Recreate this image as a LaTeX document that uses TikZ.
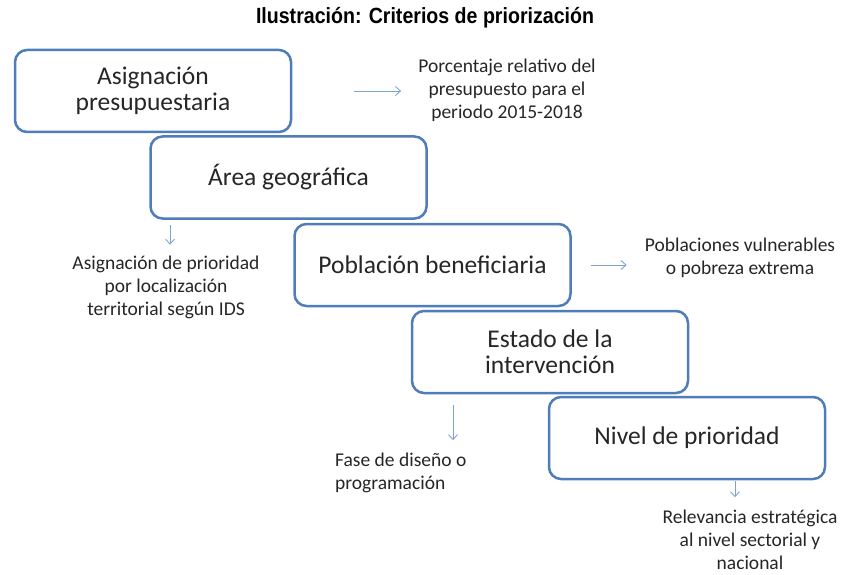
\documentclass[tikz,border=0pt]{standalone}
\usepackage{fontspec}
\usetikzlibrary{arrows.meta}
\setmainfont{Carlito}
\newfontfamily\titulofont[FakeStretch=0.89]{Liberation Sans}
\definecolor{azulcaja}{HTML}{4F7CBA}
\definecolor{azulflecha}{HTML}{7EA2D2}
\tikzset{
    caja/.style={draw=azulcaja, line width=2.5pt, rounded corners=12pt, fill=white,
        minimum width=276pt, minimum height=82pt, align=center, text=black!85,
        font=\fontsize{25.5pt}{26pt}\selectfont},
    nota/.style={align=center, text=black!85, inner sep=1pt,
        font=\fontsize{19.5pt}{23pt}\selectfont},
    flecha/.style={->, >={Straight Barb[length=5pt,width=9pt]}, draw=azulflecha, line width=0.9pt}
}
\begin{document}
\begin{tikzpicture}[x=1pt, y=-1pt]
    \useasboundingbox (0,0) rectangle (851,575);
    \node (titulo) at (425,18) {\titulofont\bfseries\fontsize{22pt}{24pt}\selectfont Ilustración: Criterios de priorización};

    % cajas en escalera
    \node[caja] (asig) at (153,91) {Asignación\\presupuestaria};
    \node[caja] (area) at (288.5,177.5) {Área geográfica};
    \node[caja] (benef) at (432.5,265) {Población beneficiaria};
    \node[caja] (estado) at (550,352) {Estado de la\\intervención};
    \node[caja] (nivel) at (687,438) {Nivel de prioridad};

    % notas
    \node[nota] (porc) at (507,90) {Porcentaje relativo del\\presupuesto para el\\periodo 2015-2018};
    \node[nota] (asigprio) at (166,287) {Asignación de prioridad\\por localización\\territorial según IDS};
    \node[nota] (pobla) at (740,258) {Poblaciones vulnerables\\o pobreza extrema};
    \node[nota, align=left, anchor=west] (fase) at (334,473) {Fase de diseño o\\programación};
    \node[nota] (relev) at (750,540) {Relevancia estratégica\\al nivel sectorial y\\nacional};

    \draw[flecha] ([xshift=62pt]asig.east) -- ([xshift=-16pt]asig.east -| porc.west);
    \draw[flecha] ([xshift=-118.5pt, yshift=-5pt]area.south) -- ++(0,20);
    \draw[flecha] ([xshift=19pt]benef.east) -- ([xshift=-17pt]benef.east -| pobla.west);
    \draw[flecha] ([xshift=-97pt, yshift=-11pt]estado.south) -- ++(0,35);
    \draw[flecha] ([xshift=48pt, yshift=-1pt]nivel.south) -- ++(0,16);
\end{tikzpicture}
\end{document}
